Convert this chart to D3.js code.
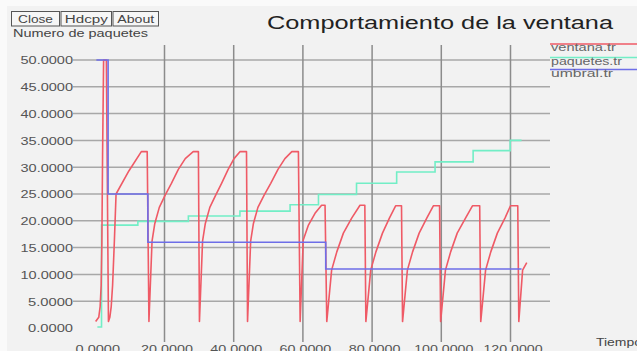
<!DOCTYPE html>
<html>
<head>
<meta charset="utf-8">
<script src="https://cdn.jsdelivr.net/npm/d3@7"></script>
<style>
  html, body { margin: 0; padding: 0; background: #fafafa; }
  svg { display: block; }
  text { font-family: "Liberation Sans", Arial, Helvetica, sans-serif; }
</style>
</head>
<body>
<svg id="chart" width="637" height="351"></svg>
<script>
// Congestion window trace (ventana.tr): time, window size
const ventanaT = [
  0.1, 1.0, 1.4, 1.7, 1.9, 2.1, 2.4, 3.2, 3.8,
  4.2, 4.6, 5.0, 5.5, 6.0, 9.7, 13.3, 15.0, 15.5,
  16.4, 17.2, 18.5, 20.2, 22.0, 24.0, 26.0, 28.3, 29.8, 30.1,
  31.0, 31.8, 33.1, 34.8, 36.5, 38.4, 40.1, 41.8, 43.7, 44.0,
  44.9, 45.7, 47.0, 48.8, 50.7, 52.8, 54.8, 56.8, 58.7, 59.2,
  60.1, 61.6, 63.5, 65.4, 66.4, 66.9,
  68.3, 69.8, 71.7, 74.1, 76.5, 77.9, 78.2,
  79.6, 81.1, 83.0, 85.0, 86.8, 88.5, 88.8,
  90.2, 91.7, 93.6, 95.8, 97.7, 99.5, 99.8,
  101.2, 102.7, 104.6, 107.0, 109.0, 111.1, 111.4,
  112.8, 114.3, 116.2, 118.4, 120.0, 122.1, 122.4,
  123.5, 124.7
];
const ventanaV = [
  1.2, 2, 4, 8, 16, 32, 50, 50, 1.2,
  2, 4, 8, 16, 25, 29.3, 32.9, 32.9, 1.2,
  16.2, 19.5, 22.5, 24.8, 27.0, 29.6, 31.6, 32.9, 32.9, 1.2,
  16.2, 19.5, 22.5, 24.8, 27.0, 29.6, 31.6, 32.9, 32.9, 1.2,
  16.2, 19.5, 22.5, 24.8, 27.0, 29.6, 31.6, 32.9, 32.9, 1.2,
  16.4, 19.2, 21.4, 22.9, 22.9, 1.2,
  10.8, 14.2, 17.7, 20.5, 22.9, 22.9, 1.2,
  10.8, 14.2, 17.7, 20.5, 22.8, 22.8, 1.2,
  10.8, 14.2, 17.7, 20.5, 22.8, 22.8, 1.2,
  10.8, 14.2, 17.7, 20.5, 22.8, 22.8, 1.2,
  10.8, 14.2, 17.7, 20.5, 22.8, 22.8, 1.2,
  10.8, 12.2
];

// Packet counter (paquetes.tr), drawn as steps
const paquetesT = [0.6, 1.8, 12.3, 26.9, 41.8, 56.3, 64.5, 75.5, 87.1, 98.2, 109.2, 119.9, 123.2];
const paquetesV = [0.2, 19.2, 19.9, 20.9, 21.8, 23.0, 24.9, 27.0, 29.1, 31.0, 33.1, 35.0, 35.0];

// Slow-start threshold (umbral.tr), drawn as steps
const umbralT = [0.3, 3.7, 15.2, 66.6, 123.2];
const umbralV = [50, 25, 16, 11, 11];

const xTicks = [0, 20, 40, 60, 80, 100, 120];
const yTicks = [0, 5, 10, 15, 20, 25, 30, 35, 40, 45, 50];
const seriesNames = ["ventana.tr", "paquetes.tr", "umbral.tr"];
const seriesColors = ["#ef5a66", "#72eec6", "#6e6ee8"];

const svg = d3.select("#chart");
const W = 637, H = 351;

// window background
svg.append("rect").attr("x", 0).attr("y", 0).attr("width", W).attr("height", H).attr("fill", "#fafafa");
svg.append("rect").attr("x", 7).attr("y", 6).attr("width", W - 7).attr("height", H - 6).attr("fill", "#f2f2f2");

// plot frame extents (pixels)
const frameL = 73, frameR = 550, frameT = 45, frameB = 342;

const x = d3.scaleLinear().domain([0, 120]).range([95.3, 510.5]);
const y = d3.scaleLinear().domain([0, 50]).range([328, 60]);

// grid
const grid = svg.append("g");
grid.selectAll("line.h").data(yTicks.filter(d => d > 0)).enter().append("line")
  .attr("class", "h")
  .attr("x1", frameL).attr("x2", frameR)
  .attr("y1", d => y(d)).attr("y2", d => y(d))
  .attr("stroke", "#a8a8a8").attr("stroke-width", 1.5);
grid.selectAll("line.v").data(xTicks.filter(d => d > 0)).enter().append("line")
  .attr("class", "v")
  .attr("x1", d => x(d)).attr("x2", d => x(d))
  .attr("y1", frameT).attr("y2", frameB)
  .attr("stroke", "#8c8c8c").attr("stroke-width", 1.5);

// axes (labels only)
const fmt = d3.format(".4f");
const yAxis = svg.append("g").attr("transform", `translate(${frameL},0)`)
  .call(d3.axisLeft(y).tickValues(yTicks).tickFormat(fmt).tickSize(0).tickPadding(0));
yAxis.select(".domain").remove();
yAxis.selectAll("text")
  .attr("font-size", 11).attr("fill", "#555").attr("dy", "0.36em")
  .attr("textLength", d => fmt(d).length * 7.5)
  .attr("lengthAdjust", "spacingAndGlyphs")
  .attr("font-family", "Liberation Sans, Arial, sans-serif");

const xAxis = svg.append("g").attr("transform", `translate(2,${frameB})`)
  .call(d3.axisBottom(x).tickValues(xTicks).tickFormat(fmt).tickSize(0).tickPadding(0));
xAxis.select(".domain").remove();
xAxis.selectAll("text")
  .attr("font-size", 11).attr("fill", "#555").attr("dy", "10.5")
  .attr("textLength", d => fmt(d).length * 7.4)
  .attr("lengthAdjust", "spacingAndGlyphs")
  .attr("font-family", "Liberation Sans, Arial, sans-serif");

// series
const plot = svg.append("g");
const lineLin = d3.line().x(d => x(d[0])).y(d => y(d[1]));
const lineStep = d3.line().x(d => x(d[0])).y(d => y(d[1])).curve(d3.curveStepAfter);

plot.append("path")
  .datum(paquetesT.map((t, i) => [t, paquetesV[i]]))
  .attr("d", lineStep).attr("fill", "none")
  .attr("stroke", seriesColors[1]).attr("stroke-width", 1.6);

plot.append("path")
  .datum(ventanaT.map((t, i) => [t, ventanaV[i]]))
  .attr("d", lineLin).attr("fill", "none")
  .attr("stroke", seriesColors[0]).attr("stroke-width", 1.6)
  .attr("stroke-linejoin", "round");

plot.append("path")
  .datum(umbralT.map((t, i) => [t, umbralV[i]]))
  .attr("d", lineStep).attr("fill", "none")
  .attr("stroke", seriesColors[2]).attr("stroke-width", 1.6);

// legend
const legY = [44, 57.5, 69.5];
const legW = [65, 71, 62];
const leg = svg.append("g");
seriesNames.forEach((name, i) => {
  leg.append("line").attr("x1", 550).attr("x2", W)
    .attr("y1", legY[i]).attr("y2", legY[i])
    .attr("stroke", seriesColors[i]).attr("stroke-width", 1.5);
  leg.append("text").attr("x", 551).attr("y", legY[i] + 7)
    .attr("font-size", 10).attr("fill", "#666")
    .attr("textLength", legW[i]).attr("lengthAdjust", "spacingAndGlyphs")
    .text(name);
});

// title
svg.append("text").attr("x", 267).attr("y", 28.5)
  .attr("font-size", 17.5).attr("fill", "#222")
  .attr("textLength", 346).attr("lengthAdjust", "spacingAndGlyphs")
  .text("Comportamiento de la ventana");

// y axis caption
svg.append("text").attr("x", 13).attr("y", 36.5)
  .attr("font-size", 11).attr("fill", "#444")
  .attr("textLength", 135).attr("lengthAdjust", "spacingAndGlyphs")
  .text("Numero de paquetes");

// x axis caption
svg.append("text").attr("x", 596).attr("y", 345.5)
  .attr("font-size", 11).attr("fill", "#444")
  .attr("textLength", 46).attr("lengthAdjust", "spacingAndGlyphs")
  .text("Tiempo");

// window buttons
const buttons = [
  { label: "Close", x0: 11.5, x1: 59.5, tw: 35 },
  { label: "Hdcpy", x0: 61, x1: 111.5, tw: 43 },
  { label: "About", x0: 113, x1: 158.5, tw: 37 }
];
const btn = svg.append("g");
buttons.forEach(b => {
  btn.append("rect").attr("x", b.x0).attr("y", 11.5)
    .attr("width", b.x1 - b.x0).attr("height", 14.5)
    .attr("fill", "#f6f6f6").attr("stroke", "#555").attr("stroke-width", 1);
  btn.append("text").attr("x", (b.x0 + b.x1) / 2).attr("y", 22.5)
    .attr("text-anchor", "middle").attr("font-size", 10).attr("fill", "#444")
    .attr("textLength", b.tw).attr("lengthAdjust", "spacingAndGlyphs")
    .text(b.label);
});
</script>
</body>
</html>
